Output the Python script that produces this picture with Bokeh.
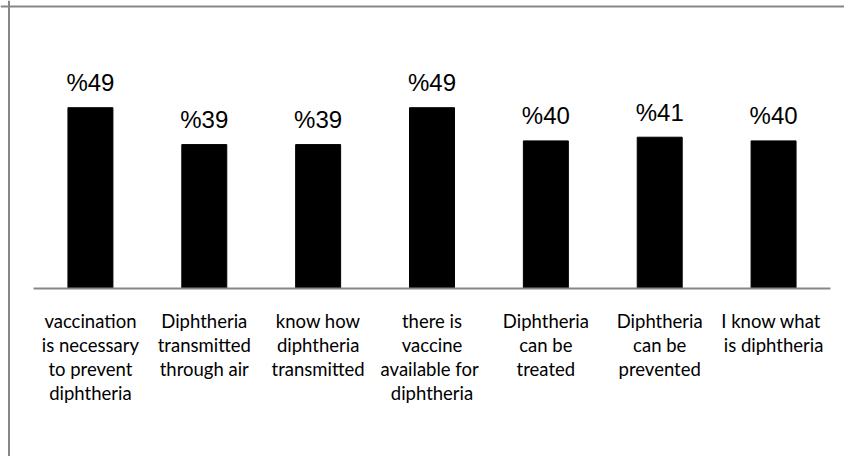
from bokeh.plotting import figure
from bokeh.models import Range1d, Span, ColumnDataSource
from bokeh.core.properties import value
from bokeh.embed import file_html
from bokeh.resources import INLINE

categories = [
    "vaccination\nis necessary\nto prevent\ndiphtheria",
    "Diphtheria\ntransmitted\nthrough air",
    "know how\ndiphtheria\ntransmitted",
    "there is\nvaccine\navailable  for\ndiphtheria",
    "Diphtheria\ncan be\ntreated",
    "Diphtheria\ncan be\nprevented",
    "I  know what\nis diphtheria",
]
values = [49, 39, 39, 49, 40, 41, 40]
value_labels = ["%" + str(v) for v in values]

n = len(categories)
xs = list(range(n))
src = ColumnDataSource(dict(x=xs, top=values, base=[0] * n, cat=categories, lab=value_labels))

W, H = 844, 456
px_x = 113.86   # pixels per category
px_y = 3.69     # pixels per percentage point
left_pad, right_pad = 33, 14
base_px = 288
x0 = -0.5 - left_pad / px_x
x1 = n - 0.5 + right_pad / px_x
y1 = base_px / px_y
y0 = -(H - base_px) / px_y

p = figure(width=W, height=H, output_backend="svg", toolbar_location=None,
           x_range=Range1d(x0, x1), y_range=Range1d(y0, y1),
           min_border=0, x_axis_type=None, y_axis_type=None)
p.outline_line_color = None
p.grid.visible = False
p.background_fill_color = "white"
p.border_fill_color = "white"

# outer border (left and top)
p.add_layout(Span(location=x0 + 8.5 / px_x, dimension="height", line_color="#878787", line_width=2))
p.add_layout(Span(location=y1 - 6 / px_y, dimension="width", line_color="#878787", line_width=2))

p.vbar(x="x", top="top", bottom="base", width=0.395, source=src,
       fill_color="black", line_color="black")

# category axis line
p.segment(x0=-0.5, x1=n - 0.5, y0=0, y1=0, line_color="#868686", line_width=2)

p.text(x="x", y="top", text="lab", source=src, text_align="center",
       text_baseline="alphabetic", y_offset=-25,
       text_font=value("Liberation Sans"), text_font_size="24px", text_color="black")

p.text(x="x", y="base", text="cat", source=src, text_align="center",
       text_baseline="top", y_offset=21, text_line_height=1.1,
       text_font=value("Lato"), text_font_size="18.5px", text_color="black")

open("out.html", "w").write(file_html(p, INLINE))
